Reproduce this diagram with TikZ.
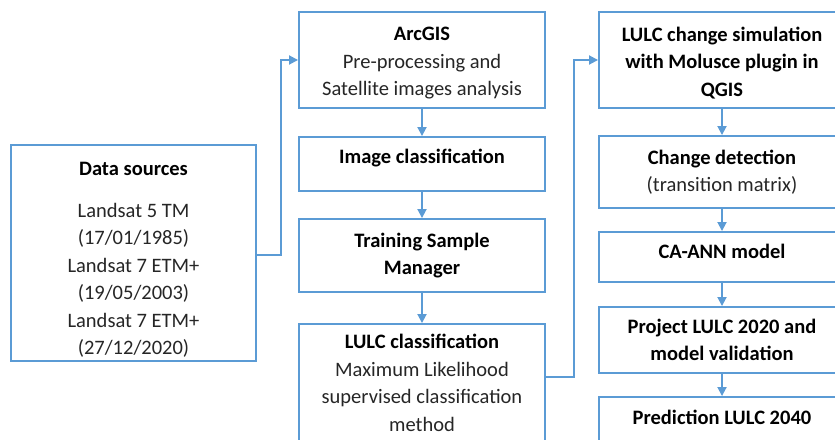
\documentclass[tikz,border=0pt]{standalone}
\usepackage{fontspec}
\setmainfont{Carlito}
\usetikzlibrary{arrows.meta,calc}
\definecolor{bl}{HTML}{5B9BD5}
\definecolor{tx}{HTML}{262626}
\newcommand\bhead[1]{{\color{black}\bfseries #1}}
\newcommand\lowpad[1]{\rule[-#1]{0pt}{#1}}
\newcommand\highpad[1]{\rule{0pt}{#1}}
\begin{document}
\begin{tikzpicture}[x=1pt,y=-1pt,
  box/.style={draw=bl, line width=1.9pt, fill=white, align=center, inner sep=0pt,
    font=\fontsize{20.5}{27.5}\selectfont, text=tx},
  arr/.style={draw=bl, line width=1.8pt, -{Triangle[length=9pt,width=9pt]}},
  ]
\useasboundingbox (0,0) rectangle (835,439);
\clip (0,0) rectangle (835,439);
% data sources
\node[box, minimum width=245, minimum height=216] (data) at (133.5,253)
  {\highpad{27pt}\bhead{Data sources}\\[14pt] Landsat 5 TM\\ (17/01/1985)\\ Landsat 7 ETM+\\ (19/05/2003)\\ Landsat 7 ETM+\\ (27/12/2020)};
% left column
\node[box, minimum width=246, minimum height=96] (arcgis) at (422,60)
  {\highpad{20pt}\bhead{ArcGIS}\\ Pre-processing and\\ Satellite images analysis};
\node[box, minimum width=246, minimum height=54] (imgcls) at (422,164)
  {\bhead{Image classification}\lowpad{16pt}};
\node[box, minimum width=246, minimum height=73] (train) at (422,255.5)
  {\bhead{Training Sample}\\ \bhead{Manager}};
\node[box, minimum width=246, minimum height=128] (lulccls) at (422,388)
  {\bhead{LULC classification}\\ Maximum Likelihood\\ supervised classification\\ method\lowpad{10pt}};
% right column
\node[box, minimum width=246, minimum height=96] (sim) at (722,60)
  {\highpad{20pt}\bhead{LULC change simulation}\\ \bhead{with Molusce plugin in}\\ \bhead{QGIS}};
\node[box, minimum width=246, minimum height=72] (change) at (722,172)
  {\bhead{Change detection}\\ (transition matrix)};
\node[box, minimum width=246, minimum height=50] (caann) at (722,257)
  {\bhead{CA-ANN model}\lowpad{12pt}};
\node[box, minimum width=246, minimum height=66] (project) at (722,340)
  {\bhead{Project LULC 2020 and}\\ \bhead{model validation}};
\node[box, minimum width=246, minimum height=50] (predict) at (722,422)
  {\bhead{Prediction LULC 2040}\lowpad{10pt}};
% connectors
\coordinate (c0) at ($(data.east)+(0,2)$);
\draw[arr] (c0) -- ++(24,0) |- (arcgis.west);
\draw[arr] (arcgis.south) -- (imgcls.north);
\draw[arr] (imgcls.south) -- (train.north);
\draw[arr] (train.south) -- (lulccls.north);
\coordinate (c1) at ($(lulccls.north east)+(0,54)$);
\draw[arr] (c1) -- ++(28,0) |- (sim.west);
\draw[arr] (sim.south) -- (change.north);
\draw[arr] (change.south) -- (caann.north);
\draw[arr] (caann.south) -- (project.north);
\draw[arr] (project.south) -- (predict.north);
\end{tikzpicture}
\end{document}
